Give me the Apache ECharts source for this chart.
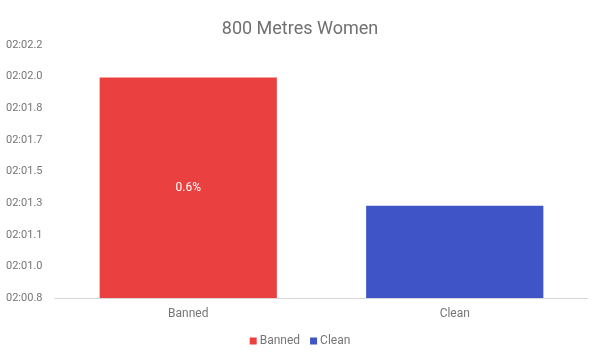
<!DOCTYPE html>
<html>
<head>
<meta charset="utf-8">
<script src="https://cdn.jsdelivr.net/npm/echarts@6/dist/echarts.min.js"></script>
<style>
  html, body { margin: 0; padding: 0; background: #fff; }
  #chart { width: 600px; height: 355px; }
</style>
</head>
<body>
<div id="chart"></div>
<script>
// race times in seconds (02:02.02 -> 122.02)
const categories = ['Banned', 'Clean']
const times = [122.02, 121.31]
const colors = ['#eb4040', '#3f54c6']

// axis starts at 02:00.8, 8 steps of 0.175 s
const baseTime = 120.8
const step = 0.175
const yTickLabels = ['02:00.8', '02:01.0', '02:01.1', '02:01.3', '02:01.5', '02:01.7', '02:01.8', '02:02.0', '02:02.2']

const diffLabel = ((times[0] - times[1]) / times[1] * 100).toFixed(1) + '%'

const chart = echarts.init(document.getElementById('chart'))

const seriesList = categories.map((name, i) => {
  const data = categories.map((c, j) => (j === i ? +(times[i] - baseTime).toFixed(3) : null))
  return {
    name: name,
    type: 'bar',
    stack: 'all',
    barWidth: '66.5%',
    itemStyle: { color: colors[i] },
    label: {
      show: i === 0,
      position: 'inside',
      color: '#fff',
      fontSize: 12,
      fontFamily: 'Roboto',
      formatter: () => diffLabel
    },
    data: data
  }
})

chart.setOption({
  animation: false,
  title: {
    text: '800 Metres Women',
    left: 'center',
    top: 15,
    textStyle: {
      fontFamily: 'Roboto',
      fontWeight: 'normal',
      fontSize: 18,
      color: '#707070'
    }
  },
  legend: {
    bottom: 3,
    left: 'center',
    itemWidth: 7,
    itemHeight: 7,
    itemGap: 10,
    icon: 'rect',
    textStyle: { fontFamily: 'Roboto', fontSize: 12, color: '#757575', padding: [0, 0, 0, -2] },
    data: categories
  },
  grid: {
    left: 55,
    right: 12,
    top: 45,
    bottom: 57
  },
  xAxis: {
    type: 'category',
    data: categories,
    axisTick: { show: false },
    axisLine: { lineStyle: { color: '#d6d6d6' } },
    axisLabel: { fontFamily: 'Roboto', fontSize: 12, color: '#757575', margin: 10 }
  },
  yAxis: {
    type: 'value',
    min: 0,
    max: step * 8,
    interval: step,
    splitLine: { show: false },
    axisLine: { show: false },
    axisTick: { show: false },
    axisLabel: {
      fontFamily: 'Roboto',
      fontSize: 11,
      color: '#757575',
      margin: 49,
      align: 'left',
      formatter: v => yTickLabels[Math.round(v / step)]
    }
  },
  series: seriesList
})
</script>
</body>
</html>
